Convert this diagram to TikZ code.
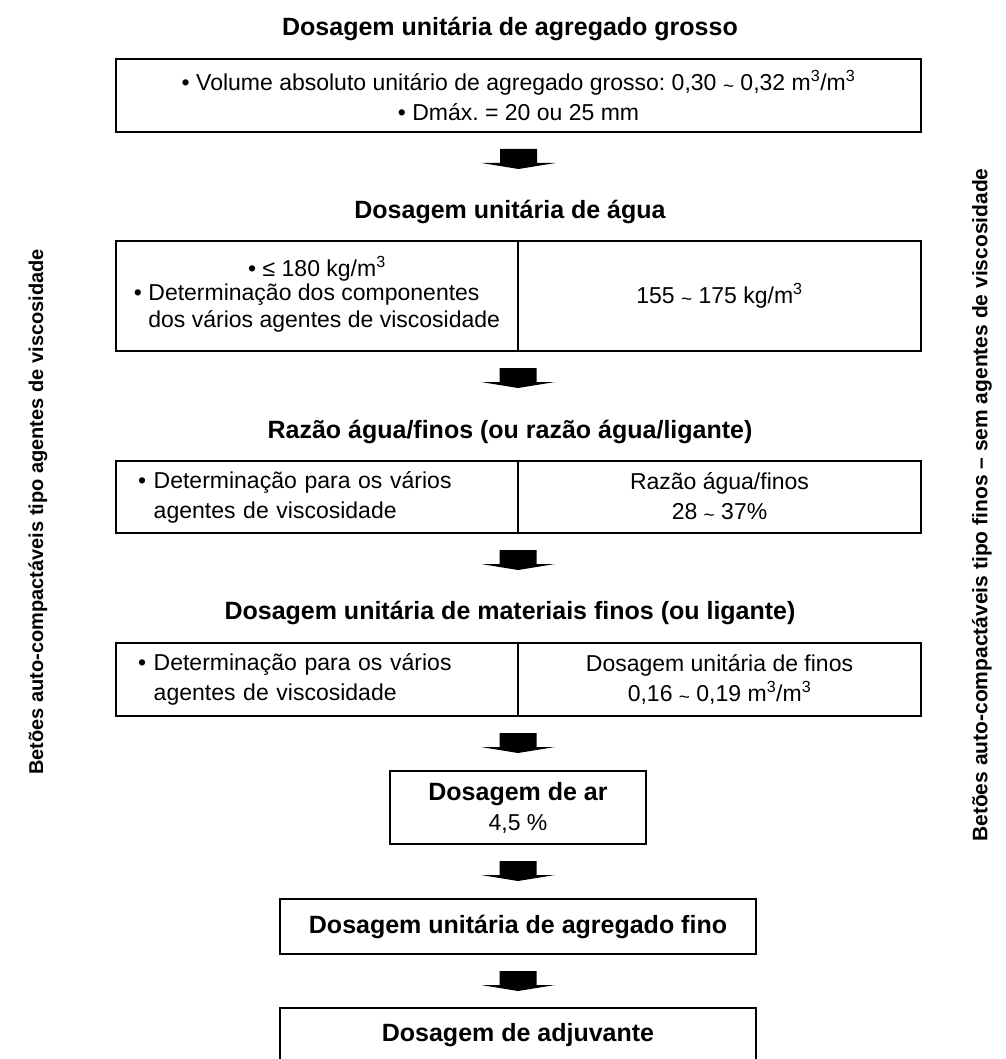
\documentclass[tikz,border=0pt]{standalone}
\usepackage{fontspec}
\setmainfont{Liberation Sans}
\usetikzlibrary{positioning}
\newcommand{\faixa}{\raisebox{-2pt}{\fontsize{19}{19}\selectfont\textasciitilde}}
\frenchspacing

\begin{document}
\begin{tikzpicture}[x=1pt,y=-1pt,
    every node/.style={inner sep=0pt,outer sep=0pt},
    heading/.style={font=\fontsize{25}{30}\selectfont\bfseries},
    sidetext/.style={font=\fontsize{21}{26}\selectfont\bfseries,rotate=90},
    box/.style={draw,line width=2pt,font=\fontsize{23}{30}\selectfont,align=center},
    leftcell/.style={box,minimum width=402pt,text width=358pt,inner xsep=22pt,align=left},
    rightcell/.style={box,minimum width=403pt},
    blockarrow/.pic={\fill (-18.5,0) -- (18.5,0) -- (18.5,14) -- (37,14) -- (0,20) -- (-37,14) -- (-18.5,14) -- cycle;}]
  \useasboundingbox (0,0) rectangle (1005,1059);

  % titulos e caixas
  \node[heading] (tgrosso) at (510,29) {Dosagem unitária de agregado grosso};
  \node[box,minimum width=805pt,minimum height=73pt,anchor=north west] (grosso) at (116,59)
    {\textbullet\ Volume absoluto unitário de agregado grosso: 0,30 \faixa{} 0,32 m\textsuperscript{3}/m\textsuperscript{3}\\
     \textbullet\ Dmáx. = 20 ou 25 mm};

  \node[heading] (tagua) at (510,212) {Dosagem unitária de água};
  \node[box,minimum width=402pt,minimum height=110pt,anchor=north west,font=\fontsize{23}{27}\selectfont] (agualeft) at (116,241)
    {\textbullet\ ≤ 180 kg/m\textsuperscript{3}\\
     \begin{tabular}{@{}l@{}}\textbullet\ Determinação dos componentes\\
     \hphantom{\textbullet\ }dos vários agentes de viscosidade\end{tabular}};
  \node[rightcell,minimum height=110pt,right=0pt of agualeft] (aguaright)
    {155 \faixa{} 175 kg/m\textsuperscript{3}};

  \node[heading] (trazao) at (510,432) {Razão água/finos (ou razão água/ligante)};
  \node[leftcell,minimum height=72pt,anchor=north west] (razaoleft) at (116,461)
    {\textbullet\ Determinação para os vários\\
     \hphantom{\textbullet\ }agentes de viscosidade};
  \node[rightcell,minimum height=72pt,right=0pt of razaoleft] (razaoright)
    {Razão água/finos\\ 28 \faixa{} 37\%};

  \node[heading] (tfinos) at (510,613) {Dosagem unitária de materiais finos (ou ligante)};
  \node[leftcell,minimum height=73pt,anchor=north west] (finosleft) at (116,643)
    {\textbullet\ Determinação para os vários\\
     \hphantom{\textbullet\ }agentes de viscosidade};
  \node[rightcell,minimum height=73pt,right=0pt of finosleft] (finosright)
    {Dosagem unitária de finos\\ 0,16 \faixa{} 0,19 m\textsuperscript{3}/m\textsuperscript{3}};

  \node[box,minimum width=256pt,minimum height=73pt,anchor=north] (ar) at (518,771)
    {\textbf{\fontsize{25}{30}\selectfont Dosagem de ar}\\ 4,5 \%};
  \node[box,minimum width=476pt,minimum height=55pt,anchor=north,font=\fontsize{25}{30}\selectfont\bfseries] (fino) at (518,899)
    {Dosagem unitária de agregado fino};
  \node[box,minimum width=476pt,minimum height=55pt,anchor=north,font=\fontsize{25}{30}\selectfont\bfseries] (adjuvante) at (518,1008)
    {Dosagem de adjuvante};

  % setas
  \pic at ([yshift=-17pt]grosso.south) {blockarrow};
  \pic at ([yshift=-17pt]agualeft.south east) {blockarrow};
  \pic at ([yshift=-17pt]razaoleft.south east) {blockarrow};
  \pic at ([yshift=-17pt]finosleft.south east) {blockarrow};
  \pic at ([yshift=-17pt]ar.south) {blockarrow};
  \pic at ([yshift=-17pt]fino.south) {blockarrow};

  % textos laterais
  \node[sidetext,font=\fontsize{20}{24}\selectfont\bfseries] (ladoesq) at (38,512) {Betões auto-compactáveis tipo agentes de viscosidade};
  \node[sidetext] (ladodir) at (982,505) {Betões auto-compactáveis tipo finos -- sem agentes de viscosidade};
\end{tikzpicture}
\end{document}
